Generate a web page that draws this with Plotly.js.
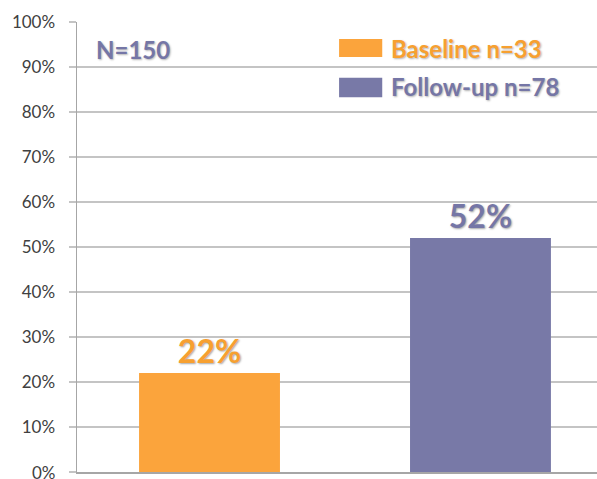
<!DOCTYPE html>
<html>
<head>
<meta charset="utf-8">
<script src="https://cdn.plot.ly/plotly-3.0.1.min.js"></script>
<style>html,body{margin:0;padding:0;background:#fff;}#chart{width:597px;height:479px;}</style>
</head>
<body>
<div id="chart"></div>
<script>
const categories = ["Baseline", "Follow-up"];
const seriesNames = ["Baseline n=33", "Follow-up n=78"];
const values = [0.22, 0.52];
const colors = ["#FBA43C", "#7879A7"];
const labelColors = ["#F7A030", "#7576A6"];
const totalLabel = "N=150";
const bottomTickLabel = "0%";

const traces = categories.map((c, i) => ({
  type: "bar",
  x: [c],
  y: [values[i]],
  name: seriesNames[i],
  width: 0.52,
  marker: { color: colors[i] },
  text: [Math.round(values[i] * 100) + "%"],
  textposition: "outside",
  cliponaxis: false,
  textfont: { family: "Lato", size: 32, color: labelColors[i], weight: 700, shadow: "1px 1px 2px rgba(0,0,0,0.35)" },
  hoverinfo: "skip"
}));

const swatchY = [[0.922, 0.962], [0.833, 0.876]];
const textY = [0.942, 0.856];
const shapes = seriesNames.map((n, i) => ({
  type: "rect", xref: "paper", yref: "paper",
  x0: 0.504, x1: 0.587, y0: swatchY[i][0], y1: swatchY[i][1],
  fillcolor: colors[i], line: { width: 0 }
}));
const annotations = seriesNames.map((n, i) => ({
  xref: "paper", yref: "paper", x: 0.600, y: textY[i],
  xanchor: "left", yanchor: "middle", showarrow: false, text: n,
  font: { family: "Lato", size: 24, color: labelColors[i], weight: 700, shadow: "1px 1px 2px rgba(0,0,0,0.3)" }
}));
annotations.push({
  xref: "paper", yref: "paper", x: 0.033, y: 0.938,
  xanchor: "left", yanchor: "middle", showarrow: false, text: totalLabel,
  font: { family: "Lato", size: 24, color: labelColors[1], weight: 700, shadow: "1px 1px 2px rgba(0,0,0,0.3)" }
});
annotations.push({
  xref: "paper", yref: "y", x: 0, y: 0, xshift: -19,
  xanchor: "right", yanchor: "middle", showarrow: false, text: bottomTickLabel,
  font: { family: "Lato", size: 17, color: "#404040" }
});

const layout = {
  width: 597, height: 479,
  margin: { l: 77, r: 0, t: 22, b: 7 },
  paper_bgcolor: "#ffffff", plot_bgcolor: "#ffffff",
  showlegend: false,
  xaxis: {
    type: "category", range: [-0.489, 1.43], showticklabels: false,
    showgrid: false, zeroline: false, showline: true, linecolor: "#a6a6a6", linewidth: 1.5, ticks: ""
  },
  yaxis: {
    range: [0, 1], dtick: 0.1, tickformat: ".0%",
    showgrid: true, gridcolor: "#c4c4c4", gridwidth: 1.5,
    zeroline: false, showline: true, linecolor: "#a6a6a6", linewidth: 1.5,
    ticks: "outside", ticklen: 7, tickcolor: "#c4c4c4", tickwidth: 1.5,
    ticklabelstandoff: 10,
    tickfont: { family: "Lato", size: 17, color: "#404040" }
  },
  shapes: shapes,
  annotations: annotations
};

Plotly.newPlot("chart", traces, layout, { displayModeBar: false, staticPlot: true });
</script>
</body>
</html>
